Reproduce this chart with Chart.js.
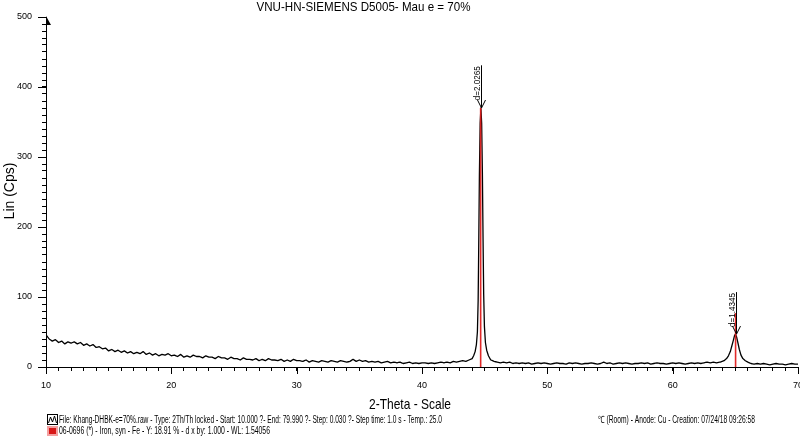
<!DOCTYPE html>
<html><head><meta charset="utf-8">
<script src="https://cdn.jsdelivr.net/npm/chart.js@4.4.1/dist/chart.umd.min.js"></script>
<style>html,body{margin:0;padding:0;background:#fff;}#wrap{width:800px;height:436px;}</style>
</head><body><div id="wrap"><canvas id="c" width="800" height="436"></canvas></div>
<script>
// ---------------- data ----------------
const titleText = 'VNU-HN-SIEMENS D5005- Mau e = 70%';
const xAxisTitle = '2-Theta - Scale';
const yAxisTitle = 'Lin (Cps)';
const xTickLabels = [10, 20, 30, 40, 50, 60, 70];
const yTickLabels = [0, 100, 200, 300, 400, 500];
const legendLine1 = 'File: Khang-DHBK-e=70%.raw - Type: 2Th/Th locked - Start: 10.000 ?- End: 79.990 ?- Step: 0.030 ?- Step time: 1.0 s - Temp.: 25.0';
const legendLine1b = '℃ (Room) - Anode: Cu - Creation: 07/24/18 09:26:58';
const legendLine2 = '06-0696 (*) - Iron, syn - Fe - Y: 18.91 % - d x by: 1.000 - WL: 1.54056';

const SCAN_STEP = 0.25;
// background scan segments (2-theta start, counts every 0.25 deg)
const segAStart = 10.0;
const segACounts = [46,40,37,39,35,
 37,33,36,34, 36,33,35,31, 33,30,32,28, 29,26,27,23, 25,22,24,21,
 23,20,22,19, 21,19,22,18, 20,17,19,16, 18,17,19,16, 17,15,18,14,
 16,14,17,15, 15,13,16,14, 14,12,15,13, 13,11,14,12, 12,10,13,11,
 11,10,12,9, 11,9,12,10, 10,9,11,8, 10,8,11,9, 9,8,10,7,
 9,8,7,9, 8,7,9,8, 7,9,8,7, 8,11,8,10, 8,9,7,8,
 7,8,6,7, 8,6,7,6, 7,5,6,7, 5,6,5,6, 6,5,6,5,
 6,7,6,7, 6,8,7,8, 9,8,10];
const segBStart = 45.5;
const segBCounts = [10,8,7,
 6,7,6,7, 5,6,5,6, 5,6,4,5, 6,5,6,5, 4,5,6,5, 5,4,6,5,
 6,5,4,5, 5,6,5,4, 5,7,5,6, 4,5,6,5, 6,5,4,5, 5,6,5,6,
 4,5,6,5, 5,4,5,6, 5,6,5,4, 5,6,5,6, 5,6,7,6, 7,6,7];
const segCStart = 66.25;
const segCCounts = [5,4,5,4, 5,4,3,4, 5,4,4,3, 4,5,4,4];

// Fe (110) peak
const peak1Theta  = [44.00,44.12,44.24,44.34,44.42,44.48,44.53,44.58,44.64,44.70,44.76,44.82,44.87,44.92,44.98,45.06,45.16,45.30,45.45];
const peak1Counts = [12,16,22,32,50,95,180,275,348,370,348,275,185,105,58,35,24,16,11];
// Fe (200) peak
const peak2Theta  = [63.80,64.10,64.30,64.45,64.60,64.72,64.84,64.94,65.02,65.10,65.20,65.32,65.45,65.60,65.80,66.00];
const peak2Counts = [7,9,12,16,22,30,38,45,47,43,35,25,17,12,9,7];

// reference pattern 06-0696 sticks
const refTheta = [44.68, 65.02];
const refIntensity = [370, 77];

// d-spacing markers
const dTheta = [44.70, 65.02];
const dLabels = ['d=2.0265', 'd=1.4345'];
const dTop = [431, 107];
const dTip = [370, 47];

// ---------------- build ----------------
function seg(start, vals){ return vals.map((v,i)=>({x: +(start + i*SCAN_STEP).toFixed(2), y: v})); }
function pairs(xs, ys){ return xs.map((t,i)=>({x:t, y:ys[i]})); }
const pattern = [].concat(
  seg(segAStart, segACounts), pairs(peak1Theta, peak1Counts),
  seg(segBStart, segBCounts), pairs(peak2Theta, peak2Counts),
  seg(segCStart, segCCounts));

const FONT = '"Liberation Sans", Arial, sans-serif';
const stickDatasets = refTheta.map((t,i)=>({
  data: [{x:t,y:0},{x:t,y:refIntensity[i]}],
  borderColor: 'rgba(222,30,30,0.95)', borderWidth: 1.6, pointRadius: 0, order: 0
}));

const decor = {
  id: 'decor',
  afterDraw(chart){
    const ctx = chart.ctx, xs = chart.scales.x, ys = chart.scales.y, ca = chart.chartArea;
    ctx.save();
    ctx.strokeStyle = '#000'; ctx.fillStyle = '#000'; ctx.lineWidth = 1;
    // major ticks
    xTickLabels.forEach(v=>{ const px = Math.round(xs.getPixelForValue(v))+0.5;
      ctx.beginPath(); ctx.moveTo(px, ca.bottom); ctx.lineTo(px, ca.bottom+7); ctx.stroke(); });
    yTickLabels.forEach(v=>{ const py = Math.round(ys.getPixelForValue(v))+0.5;
      ctx.beginPath(); ctx.moveTo(ca.left, py); ctx.lineTo(ca.left-8, py); ctx.stroke(); });
    // axis arrow
    ctx.beginPath(); ctx.moveTo(ca.left, ca.top-1); ctx.lineTo(ca.left+5, ca.top+8); ctx.lineTo(ca.left, ca.top+8); ctx.closePath(); ctx.fill();
    // d markers
    dTheta.forEach((t,i)=>{
      const px = Math.round(xs.getPixelForValue(t))+0.5;
      const yT = ys.getPixelForValue(dTop[i]), yB = ys.getPixelForValue(dTip[i]);
      ctx.beginPath(); ctx.moveTo(px, yT); ctx.lineTo(px, yB); ctx.stroke();
      ctx.beginPath(); ctx.moveTo(px-4, yB-8); ctx.lineTo(px, yB); ctx.lineTo(px+4, yB-8); ctx.stroke();
      ctx.save(); ctx.translate(px-1.5, yT+1); ctx.rotate(-Math.PI/2);
      ctx.font = '9px ' + FONT; ctx.textAlign = 'right'; ctx.textBaseline = 'alphabetic';
      ctx.fillText(dLabels[i], 0, 0, 34); ctx.restore();
    });
    // title
    ctx.textBaseline = 'middle'; ctx.textAlign = 'center';
    ctx.font = '13px ' + FONT; ctx.fillText(titleText, 363.5, 7, 214);
    ctx.font = '15px ' + FONT; ctx.fillText(xAxisTitle, 410, 405, 82);
    ctx.save(); ctx.translate(10, 191); ctx.rotate(-Math.PI/2);
    ctx.font = '14px ' + FONT; ctx.fillText(yAxisTitle, 0, 0, 62); ctx.restore();
    // legend
    ctx.textAlign = 'left'; ctx.font = '10px ' + FONT;
    ctx.fillText(legendLine1, 59, 420, 383);
    ctx.fillText(legendLine1b, 598, 420, 157);
    ctx.fillText(legendLine2, 59, 431, 211);
    ctx.strokeRect(47.5, 414.5, 10, 10);
    ctx.beginPath(); ctx.moveTo(48.5,423); ctx.lineTo(50.5,417); ctx.lineTo(52.5,422); ctx.lineTo(54.5,416); ctx.lineTo(56.5,423); ctx.stroke();
    ctx.fillStyle = '#f3a0a0'; ctx.fillRect(47, 426, 11, 10);
    ctx.fillStyle = '#d81818'; ctx.fillRect(49, 428, 7, 6);
    ctx.restore();
  }
};

new Chart(document.getElementById('c'), {
  type: 'line',
  data: { datasets: [
    ...stickDatasets,
    { data: pattern, borderColor: '#000', borderWidth: 1.3, pointRadius: 0, tension: 0.000001, order: 1 }
  ]},
  options: {
    responsive: false, animation: false, devicePixelRatio: 1,
    layout: { padding: { top: 17, right: 2, left: 0, bottom: 0 }, autoPadding: false },
    plugins: { legend: { display: false }, tooltip: { enabled: false }, title: { display: false } },
    elements: { line: { borderJoinStyle: 'round' } },
    scales: {
      x: { type: 'linear', min: 10, max: 70,
        afterFit(s){ s.height = 69; s.paddingLeft = 0; s.paddingRight = 0; },
        ticks: { stepSize: 1, autoSkip: false, maxTicksLimit: 200, maxRotation: 0, padding: 9,
          color: '#000', font: { size: 9, family: FONT },
          callback: v => xTickLabels.includes(v) ? String(v) : '' },
        grid: { display: true, drawOnChartArea: false, drawTicks: true, tickLength: 4, color: '#000', tickColor: '#000' },
        border: { display: true, color: '#000', width: 1 } },
      y: { type: 'linear', min: 0, max: 500,
        afterFit(s){ s.width = 46; s.paddingTop = 0; s.paddingBottom = 0; },
        ticks: { stepSize: 10, autoSkip: false, maxTicksLimit: 200, padding: 10,
          color: '#000', font: { size: 9, family: FONT },
          callback: v => yTickLabels.includes(v) ? String(v) : '' },
        grid: { display: true, drawOnChartArea: false, drawTicks: true, tickLength: 4, color: '#000', tickColor: '#000' },
        border: { display: true, color: '#000', width: 1 } }
    }
  },
  plugins: [decor]
});
</script></body></html>
